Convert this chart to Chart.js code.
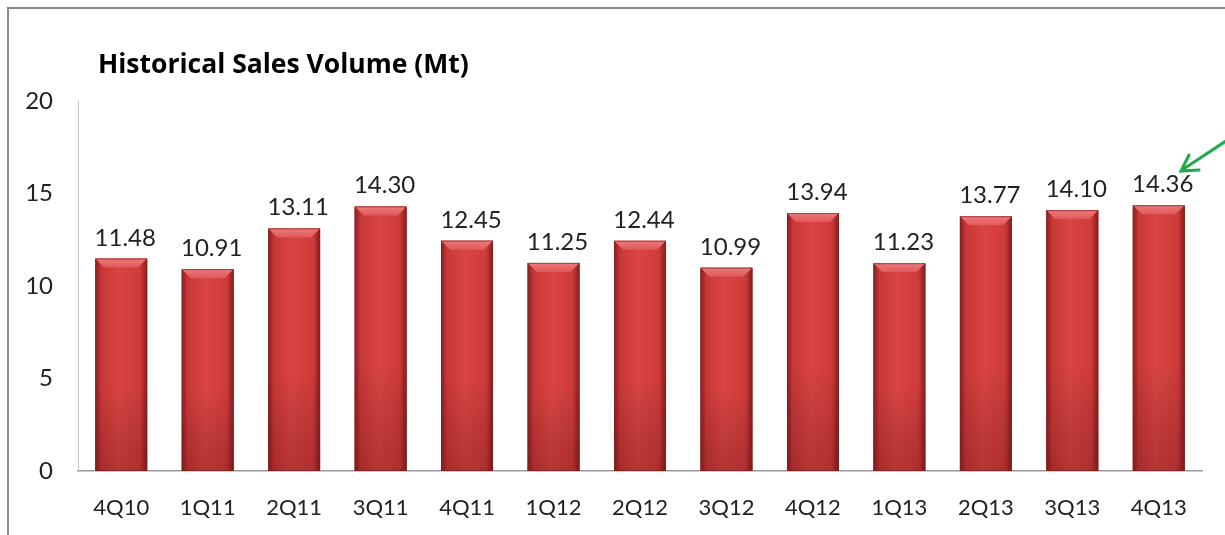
<!DOCTYPE html>
<html>
<head>
<meta charset="utf-8">
<script src="https://cdn.jsdelivr.net/npm/chart.js@4/dist/chart.umd.min.js"></script>
<style>
html,body{margin:0;padding:0;background:#fff;}
#wrap{position:relative;width:1225px;height:535px;}
</style>
</head>
<body>
<div id="wrap"><canvas id="c" width="1225" height="535"></canvas></div>
<script>
const categories = ["4Q10","1Q11","2Q11","3Q11","4Q11","1Q12","2Q12","3Q12","4Q12","1Q13","2Q13","3Q13","4Q13"];
const salesVolume = [11.48,10.91,13.11,14.30,12.45,11.25,12.44,10.99,13.94,11.23,13.77,14.10,14.36];
const yTicks = [0,5,10,15,20];
const chartTitle = "Historical Sales Volume (Mt)";

const FONT = "Lato, 'Open Sans', 'DejaVu Sans', sans-serif";
const TITLE_FONT = "'Open Sans', Lato, sans-serif";

const framePlugin = {
  id: 'frame',
  beforeDraw(chart) {
    const ctx = chart.ctx;
    ctx.save();
    ctx.fillStyle = '#fff';
    ctx.fillRect(0,0,chart.width,chart.height);
    ctx.strokeStyle = '#8c8c8c';
    ctx.lineWidth = 2;
    ctx.beginPath();
    ctx.moveTo(8, chart.height);
    ctx.lineTo(8, 8);
    ctx.lineTo(chart.width, 8);
    ctx.stroke();
    ctx.fillStyle = '#000';
    ctx.font = "bold 26.5px " + TITLE_FONT;
    ctx.textBaseline = 'alphabetic';
    ctx.textAlign = 'left';
    ctx.fillText(chartTitle, 98, 73);
    ctx.restore();
  }
};

const barPlugin = {
  id: 'fancyBars',
  afterDatasetsDraw(chart) {
    const ctx = chart.ctx;
    const meta = chart.getDatasetMeta(0);
    ctx.save();
    meta.data.forEach((bar, i) => {
      const w = bar.width;
      const x0 = bar.x - w/2, x1 = bar.x + w/2;
      const top = bar.y, base = bar.base;
      const h = base - top;
      const g = ctx.createLinearGradient(x0, 0, x1, 0);
      g.addColorStop(0, '#a52a2a');
      g.addColorStop(0.12, '#c83737');
      g.addColorStop(0.45, '#d94444');
      g.addColorStop(0.85, '#cf3b3b');
      g.addColorStop(1, '#9e2626');
      ctx.fillStyle = g;
      ctx.fillRect(x0, top, w, h);
      const gv = ctx.createLinearGradient(0, top, 0, base);
      gv.addColorStop(0, 'rgba(0,0,0,0)');
      gv.addColorStop(0.6, 'rgba(0,0,0,0)');
      gv.addColorStop(1, 'rgba(60,0,0,0.22)');
      ctx.fillStyle = gv;
      ctx.fillRect(x0, top, w, h);
      const b = 9;
      const gb = ctx.createLinearGradient(0, top, 0, top + b);
      gb.addColorStop(0, '#ec7b7b');
      gb.addColorStop(1, '#e05858');
      ctx.fillStyle = gb;
      ctx.beginPath();
      ctx.moveTo(x0, top);
      ctx.lineTo(x1, top);
      ctx.lineTo(x1 - b, top + b);
      ctx.lineTo(x0 + b, top + b);
      ctx.closePath();
      ctx.fill();
      ctx.fillStyle = 'rgba(120,20,20,0.25)';
      ctx.beginPath();
      ctx.moveTo(x0, top); ctx.lineTo(x0 + 4, top + 4); ctx.lineTo(x0 + 4, base); ctx.lineTo(x0, base); ctx.closePath(); ctx.fill();
      ctx.beginPath();
      ctx.moveTo(x1, top); ctx.lineTo(x1 - 4, top + 4); ctx.lineTo(x1 - 4, base); ctx.lineTo(x1, base); ctx.closePath(); ctx.fill();
      ctx.strokeStyle = 'rgba(110,30,30,0.6)';
      ctx.lineWidth = 1;
      ctx.strokeRect(x0 + 0.5, top + 0.5, w - 1, h - 1);
      ctx.fillStyle = '#222';
      ctx.font = "24px " + FONT;
      ctx.textAlign = 'center';
      ctx.textBaseline = 'alphabetic';
      ctx.fillText(salesVolume[i].toFixed(2), bar.x + 4, top - 13);
    });
    ctx.strokeStyle = '#1daa4b';
    ctx.lineWidth = 3;
    ctx.lineCap = 'round';
    ctx.beginPath();
    ctx.moveTo(1226, 141);
    ctx.lineTo(1182, 170);
    ctx.stroke();
    ctx.beginPath();
    ctx.moveTo(1189, 155);
    ctx.lineTo(1181, 171);
    ctx.lineTo(1199, 170);
    ctx.stroke();
    ctx.restore();
  }
};

new Chart(document.getElementById('c'), {
  type: 'bar',
  data: {
    labels: categories,
    datasets: [{
      data: salesVolume,
      backgroundColor: '#cc3a3a',
      borderWidth: 0,
      barPercentage: 0.6,
      categoryPercentage: 1.0
    }]
  },
  options: {
    responsive: false,
    animation: false,
    devicePixelRatio: 1,
    layout: { padding: { top: 101, right: 23, left: 0, bottom: 0 } },
    plugins: { legend: { display: false }, tooltip: { enabled: false }, title: { display: false } },
    scales: {
      x: {
        grid: { display: false, drawTicks: false },
        border: { display: true, color: '#9a9a9a', width: 1.5 },
        ticks: { color: '#222', font: { family: FONT, size: 22 }, padding: 24 },
        afterFit(scale) { scale.height = 64; }
      },
      y: {
        min: 0, max: 20,
        afterBuildTicks(scale) { scale.ticks = yTicks.map(v => ({ value: v })); },
        grid: { display: false, drawTicks: false },
        border: { display: true, color: '#c8c8c8', width: 1 },
        ticks: { color: '#222', font: { family: FONT, size: 24 }, padding: 25 },
        afterFit(scale) { scale.width = 78; }
      }
    }
  },
  plugins: [framePlugin, barPlugin]
});
</script>
</body>
</html>
